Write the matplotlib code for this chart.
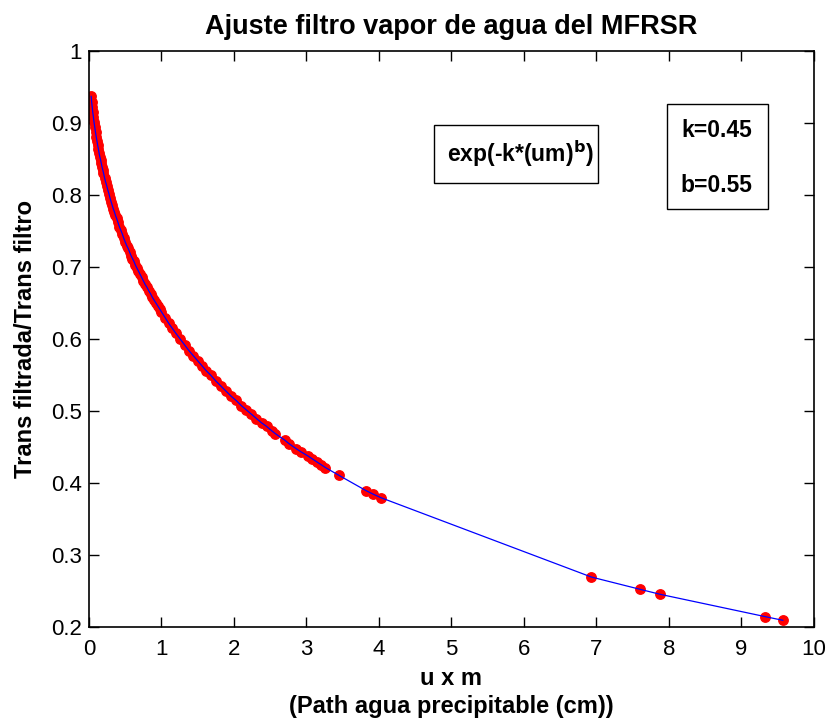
import matplotlib
matplotlib.use("Agg")
import matplotlib.pyplot as plt
from matplotlib.patches import Rectangle

plt.rcParams['font.family'] = ['Liberation Sans', 'DejaVu Sans']

# Data
u = [0.03, 0.037, 0.045, 0.052, 0.06, 0.07, 0.08, 0.09, 0.10, 0.11,
     0.12, 0.13, 0.14, 0.15, 0.16, 0.17, 0.18, 0.19, 0.20, 0.215,
     0.23, 0.245, 0.26, 0.275, 0.29, 0.305, 0.32, 0.335, 0.35, 0.365,
     0.38, 0.40, 0.42, 0.44, 0.46, 0.48, 0.50, 0.52, 0.54, 0.56,
     0.58, 0.60, 0.62, 0.64, 0.66, 0.68, 0.70, 0.725, 0.75, 0.775,
     0.80, 0.825, 0.85, 0.875, 0.90, 0.925, 0.95, 0.975, 1.00,
     1.05, 1.10, 1.15, 1.20, 1.26, 1.32, 1.38, 1.44, 1.50, 1.56,
     1.62, 1.68, 1.75, 1.82, 1.89, 1.96, 2.03, 2.10, 2.17, 2.24,
     2.31, 2.38, 2.45, 2.52, 2.57, 2.70, 2.76, 2.86, 2.92, 3.02,
     3.08, 3.14, 3.20, 3.26, 3.45, 3.82, 3.92, 4.03, 6.93, 7.60,
     7.88, 9.33, 9.57]
trans = [0.937, 0.929, 0.922, 0.915, 0.909, 0.901, 0.894, 0.887, 0.881, 0.875,
         0.869, 0.864, 0.858, 0.853, 0.849, 0.844, 0.839, 0.835, 0.831, 0.824,
         0.818, 0.813, 0.807, 0.802, 0.796, 0.791, 0.786, 0.781, 0.777, 0.772,
         0.768, 0.762, 0.756, 0.751, 0.746, 0.740, 0.735, 0.730, 0.726, 0.721,
         0.716, 0.712, 0.708, 0.703, 0.699, 0.695, 0.691, 0.686, 0.681, 0.676,
         0.672, 0.667, 0.663, 0.658, 0.654, 0.650, 0.646, 0.642, 0.638,
         0.630, 0.622, 0.615, 0.608, 0.600, 0.592, 0.584, 0.577, 0.570, 0.563,
         0.556, 0.550, 0.542, 0.535, 0.528, 0.521, 0.515, 0.508, 0.502, 0.496,
         0.490, 0.484, 0.479, 0.473, 0.469, 0.460, 0.455, 0.448, 0.444, 0.438,
         0.434, 0.430, 0.426, 0.422, 0.411, 0.390, 0.385, 0.380, 0.270, 0.253,
         0.246, 0.215, 0.210]

xticks = [0, 1, 2, 3, 4, 5, 6, 7, 8, 9, 10]
yticks = [0.2, 0.3, 0.4, 0.5, 0.6, 0.7, 0.8, 0.9, 1.0]
yticklabels = ['0.2', '0.3', '0.4', '0.5', '0.6', '0.7', '0.8', '0.9', '1']

fig = plt.figure(figsize=(8.30, 7.24), dpi=100)
ax = fig.add_axes([0.1072, 0.1333, 0.8735, 0.7963])

ax.plot(u, trans, linestyle='none', marker='o', markersize=6.8,
        markerfacecolor='red', markeredgecolor='red', zorder=2)
ax.plot(u, trans, color='blue', linewidth=0.9, zorder=3)

ax.set_xlim(0, 10)
ax.set_ylim(0.2, 1.0)
ax.set_xticks(xticks)
ax.set_xticklabels([str(t) for t in xticks])
ax.set_yticks(yticks)
ax.set_yticklabels(yticklabels)
ax.tick_params(direction='in', length=7, width=1, top=True, right=True,
               labelsize=16)
ax.tick_params(axis='x', pad=8)
ax.tick_params(axis='y', pad=5)
for s in ax.spines.values():
    s.set_linewidth(1.2)

ax.set_title('Ajuste filtro vapor de agua del MFRSR', fontsize=19.5,
             fontweight='bold', pad=12)
ax.set_xlabel('u x m\n(Path agua precipitable (cm))', fontsize=17,
              fontweight='bold', linespacing=1.3, labelpad=5)
ax.set_ylabel('Trans filtrada/Trans filtro', fontsize=17,
              fontweight='bold', labelpad=10)

# annotation boxes
ax.add_patch(Rectangle((4.76, 0.817), 2.26, 0.080, fill=False,
                       edgecolor='black', linewidth=1.0, zorder=4))
ax.text(5.95, 0.857, r'exp(-k*(um)$^{\mathbf{b}}$)', fontsize=16.5,
        fontweight='bold', ha='center', va='center', zorder=5)
ax.add_patch(Rectangle((7.97, 0.781), 1.40, 0.145, fill=False,
                       edgecolor='black', linewidth=1.0, zorder=4))
ax.text(8.66, 0.890, 'k=0.45', fontsize=16.5, fontweight='bold',
        ha='center', va='center', zorder=5)
ax.text(8.66, 0.814, 'b=0.55', fontsize=16.5, fontweight='bold',
        ha='center', va='center', zorder=5)

fig.savefig('out.png', dpi=100)
